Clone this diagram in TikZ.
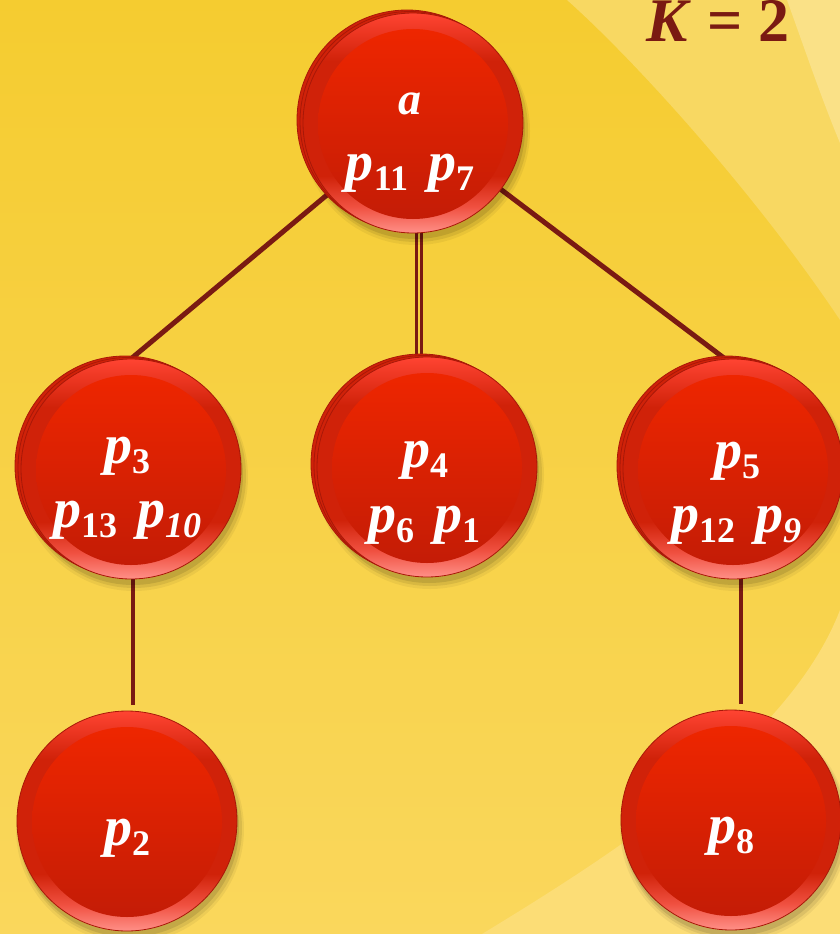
\documentclass[tikz,border=0pt]{standalone}
\usepackage{fontspec}
\setmainfont{Liberation Serif}
\definecolor{bgtop}{HTML}{F5CC30}
\definecolor{bgbot}{HTML}{FAD75C}
\definecolor{lightA}{HTML}{F8D862}
\definecolor{lightB}{HTML}{FAE187}
\definecolor{lightC}{HTML}{FCDD76}
\definecolor{edgec}{HTML}{7A1A12}
\definecolor{rimtop}{HTML}{FF4432}
\definecolor{rimmid}{HTML}{D02209}
\definecolor{rimlow}{HTML}{F05040}
\definecolor{rimbot}{HTML}{FF9088}
\definecolor{intop}{HTML}{EE2600}
\definecolor{inbot}{HTML}{C41C06}
\definecolor{ballline}{HTML}{A81808}
\pgfdeclareverticalshading{rimsh}{100bp}{color(0bp)=(rimbot); color(25bp)=(rimbot); color(31bp)=(rimlow); color(38bp)=(rimmid); color(64bp)=(rimmid); color(75bp)=(rimtop); color(100bp)=(rimtop)}
\pgfdeclarelayer{bg}
\pgfdeclarelayer{edges}
\pgfsetlayers{bg,edges,main}
\tikzset{
  ballnode/.style={circle, minimum size=220pt, inner sep=0pt},
  txt/.style={text=white, anchor=base, inner sep=0pt, font=\fontsize{56}{56}\selectfont\bfseries\itshape},
  edgeline/.style={draw=edgec, line width=5pt},
  vline/.style={draw=edgec, line width=3.5pt},
}
\newcommand\pv[1]{p\raisebox{-10pt}{\fontsize{36}{36}\selectfont\upshape\bfseries #1}}
\newcommand\pvi[1]{p\raisebox{-10pt}{\fontsize{36}{36}\selectfont\itshape\bfseries #1}}
\newcommand\ball[4]{%
  \begin{scope}[shift={(#2,#3)}]
    \fill[black,opacity=0.05] (3,8) circle (114pt);
    \fill[black,opacity=0.08] (3,7) circle (112pt);
    \fill[black,opacity=0.10] (2,6) circle (110pt);
    \ifnum#4=1
      \fill[rimmid, draw=ballline, line width=0.8pt] (-6,-3) circle (110pt);
      \fill[rimmid, draw=ballline, line width=0.8pt] (-3,-1.5) circle (110pt);
    \fi
    \shade[shading=rimsh] (0,0) circle (110pt);
    \draw[ballline, line width=0.8pt] (0,0) circle (110pt);
    \shade[top color=intop, bottom color=inbot] (0,1) circle (95pt);
  \end{scope}
  \node[ballnode] (#1) at (#2,#3) {};
}
\begin{document}
\begin{tikzpicture}[x=1pt,y=-1pt]
\useasboundingbox (0,0) rectangle (840,934);
\begin{pgfonlayer}{bg}
  \shade[top color=bgtop, bottom color=bgbot] (0,0) rectangle (840,934);
  \fill[lightA] (567,0) .. controls (640,65) and (760,200) .. (840,320) -- (840,0) -- cycle;
  \fill[lightB] (787,0) .. controls (805,50) and (822,100) .. (840,143) -- (840,0) -- cycle;
  \fill[lightC] (482,934) .. controls (620,850) and (790,740) .. (840,610) -- (840,934) -- cycle;
\end{pgfonlayer}

\ball{a}{413}{123}{1}
\ball{p3}{131}{469}{1}
\ball{p4}{427}{467}{1}
\ball{p5}{733}{469}{1}
\ball{p2}{127}{821}{0}
\ball{p8}{731}{820}{0}

\begin{pgfonlayer}{edges}
  \draw[edgeline] (a) -- (p3.north);
  \draw[edgeline] (a) -- ([xshift=-8pt]p5.north);
  \draw[vline, line width=3pt] ([xshift=3pt]a.south) -- ([xshift=3pt]a.south |- p4.north);
  \draw[vline, line width=3pt] ([xshift=8pt]a.south) -- ([xshift=8pt]a.south |- p4.north);
  \draw[vline] ([xshift=2pt]p3.south) -- ([xshift=2pt,yshift=6pt]p3.south |- p2.north);
  \draw[vline] ([xshift=8pt]p5.south) -- ([xshift=8pt,yshift=6pt]p5.south |- p8.north);
\end{pgfonlayer}

\node[txt, font=\fontsize{46}{46}\selectfont\bfseries\itshape] (at1) at (410,114) {a};
\node[txt] (at2) at (410,180) {\pv{11}\hspace{20pt}\pv{7}};
\node[txt] (p3t1) at (127,463) {\pv{3}};
\node[txt] (p3t2) at (127,527) {\pv{13}\hspace{20pt}\pvi{10}};
\node[txt] (p4t1) at (425,467) {\pv{4}};
\node[txt] (p4t2) at (424,532) {\pv{6}\hspace{20pt}\pv{1}};
\node[txt] (p5t1) at (737,468) {\pv{5}};
\node[txt] (p5t2) at (736,532) {\pv{12}\hspace{20pt}\pvi{9}};
\node[txt] (p2t) at (127,845) {\pv{2}};
\node[txt] (p8t) at (731,843) {\pv{8}};
\node[anchor=base, inner sep=0pt, text=edgec, font=\fontsize{62}{62}\selectfont\bfseries] (k) at (718,42) {\textit{K} = 2};
\end{tikzpicture}
\end{document}
